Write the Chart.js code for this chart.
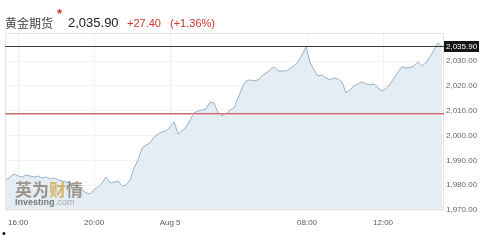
<!DOCTYPE html>
<html>
<head>
<meta charset="utf-8">
<script src="https://cdn.jsdelivr.net/npm/chart.js@4.4.1/dist/chart.umd.min.js"></script>
<style>
  html, body { margin: 0; padding: 0; background: #fff; }
  body { width: 499px; height: 241px; position: relative; overflow: hidden; font-family: Arial, "Liberation Sans", sans-serif; }
  #chart { position: absolute; left: 0; top: 0; }
  .t { position: absolute; white-space: nowrap; }
  #name { left: 5px; top: 15px; font: 12px/16px "Noto Sans CJK SC", sans-serif; color: #444; }
  #star { left: 57px; top: 7px; font: bold 13px/14px Arial, sans-serif; color: #d8302b; }
  #last { left: 68px; top: 15px; font: 13px/16px Arial, sans-serif; color: #222; }
  #chg { left: 127px; top: 16px; font: 11px/14px Arial, sans-serif; color: #d0322e; }
  #pct { left: 170px; top: 16px; font: 11px/14px Arial, sans-serif; color: #d0322e; }
  #dot { left: 2px; top: 227px; font: 11px/12px Arial, sans-serif; color: #000; }
</style>
</head>
<body>
<canvas id="chart" width="499" height="241"></canvas>
<div class="t" id="name">黄金期货</div>
<div class="t" id="star">*</div>
<div class="t" id="last">2,035.90</div>
<div class="t" id="chg">+27.40</div>
<div class="t" id="pct">(+1.36%)</div>
<div class="t" id="dot">•</div>
<script>
// gold futures, price per bar
const prices = [
  1982.1, 1983.3, 1984.5, 1983.7, 1983.3, 1984.1, 1983.7, 1983.3, 1983.7, 1982.9,
  1983.3, 1982.5, 1982.9, 1982.1, 1981.7, 1981.3, 1980.9, 1980.1, 1979.3, 1978.1,
  1976.9, 1976.5, 1978.1, 1979.3, 1980.9, 1983.3, 1980.9, 1981.3, 1981.7, 1979.7,
  1980.1, 1982.1, 1986.9, 1990.2, 1995.0, 1996.2, 1997.0, 1999.4, 2000.6, 2001.5,
  2001.9, 2003.5, 2005.5, 2000.6, 2001.9, 2003.5, 2006.3, 2009.1, 2009.9, 2010.3,
  2010.7, 2013.5, 2013.1, 2009.1, 2007.9, 2008.7, 2010.3, 2011.1, 2015.2, 2019.2,
  2022.0, 2022.4, 2022.0, 2022.4, 2024.0, 2025.2, 2026.5, 2027.7, 2026.0, 2026.0,
  2026.0, 2026.9, 2028.1, 2029.7, 2032.5, 2035.7, 2029.3, 2026.5, 2024.0, 2024.4,
  2023.2, 2022.4, 2023.2, 2022.8, 2021.6, 2017.2, 2018.4, 2020.0, 2020.8, 2021.6,
  2020.8, 2020.4, 2020.8, 2019.2, 2018.0, 2018.8, 2020.8, 2023.2, 2025.6, 2027.7,
  2027.3, 2027.3, 2028.1, 2029.7, 2028.1, 2029.3, 2031.7, 2034.5, 2037.3, 2035.9
];
const tickLabels = ["16:00", "20:00", "Aug 5", "08:00", "12:00"];
const tickPos = [3, 22, 41, 75.25, 94.25];
const lastPrice = 2035.90;
const prevClose = 2008.50;

const fmt = v => v.toLocaleString("en-US", { minimumFractionDigits: 2, maximumFractionDigits: 2 });

const extras = {
  id: "extras",
  afterDatasetsDraw(chart) {
    const { ctx, chartArea: a, scales: { y } } = chart;
    ctx.save();
    // watermark
    ctx.textBaseline = "alphabetic";
    ctx.textAlign = "left";
    ctx.font = "bold 17px 'Noto Sans CJK SC', sans-serif";
    ctx.fillStyle = "rgba(125,110,95,0.7)";
    ctx.fillText("英为", 15, 196);
    ctx.fillStyle = "rgba(205,160,60,0.75)";
    ctx.fillText("财", 49, 196);
    ctx.fillStyle = "rgba(125,110,95,0.7)";
    ctx.fillText("情", 66, 196);
    ctx.font = "bold 9px Arial, sans-serif";
    ctx.fillStyle = "rgba(90,90,90,0.8)";
    ctx.fillText("Investing", 15, 205);
    ctx.font = "9px Arial, sans-serif";
    ctx.fillStyle = "rgba(150,150,150,0.8)";
    ctx.fillText(".com", 55, 205);
    // frame
    ctx.strokeStyle = "#e4e4e4";
    ctx.lineWidth = 1;
    ctx.strokeRect(a.left + 0.5, a.top + 0.5, a.right - a.left - 1, a.bottom - a.top - 1);
    // previous close
    const yp = Math.round(y.getPixelForValue(prevClose));
    ctx.fillStyle = "#c56f72";
    ctx.fillRect(a.left, yp - 1, a.right - a.left, 1);
    ctx.fillStyle = "#e7b7b8";
    ctx.fillRect(a.left, yp, a.right - a.left, 1);
    // last price
    const yl = Math.round(y.getPixelForValue(lastPrice));
    ctx.fillStyle = "#3a3a3a";
    ctx.fillRect(a.left, yl, a.right - a.left, 1);
    ctx.fillStyle = "#161616";
    ctx.fillRect(a.right, yl - 5, 35, 11);
    ctx.fillStyle = "#fff";
    ctx.font = "8px Arial, sans-serif";
    ctx.textBaseline = "middle";
    ctx.fillText(fmt(lastPrice), a.right + 2, yl + 1);
    ctx.restore();
  }
};

new Chart(document.getElementById("chart"), {
  type: "line",
  data: {
    datasets: [{
      data: prices.map((p, i) => ({ x: i, y: p })),
      borderColor: "#98b2c8",
      borderWidth: 1,
      backgroundColor: "#e5edf4",
      fill: "start",
      pointRadius: 0,
      tension: 0
    }]
  },
  options: {
    responsive: false,
    animation: false,
    devicePixelRatio: 1,
    layout: { padding: { top: 33, left: 4, right: 0, bottom: 0 } },
    plugins: { legend: { display: false }, tooltip: { enabled: false } },
    scales: {
      x: {
        type: "linear",
        min: -0.25,
        max: 109.5,
        afterBuildTicks: s => { s.ticks = tickPos.map(v => ({ value: v })); },
        afterFit: s => { s.height = 31; },
        grid: { color: "#f1f1f1", drawTicks: false },
        border: { display: false },
        ticks: {
          padding: 8,
          color: "#5a5a5a",
          font: { size: 8, family: "Arial" },
          maxRotation: 0,
          autoSkip: false,
          callback: (v, i) => tickLabels[i]
        }
      },
      y: {
        position: "right",
        min: 1970,
        max: 2041.3,
        afterFit: s => { s.width = 55; },
        grid: { color: "#f3f3f3", drawTicks: false },
        border: { display: false },
        ticks: {
          stepSize: 10,
          padding: 2,
          color: "#666",
          font: { size: 8, family: "Arial" },
          callback: v => (v > 2035 ? "" : fmt(v))
        }
      }
    }
  },
  plugins: [extras]
});
</script>
</body>
</html>
